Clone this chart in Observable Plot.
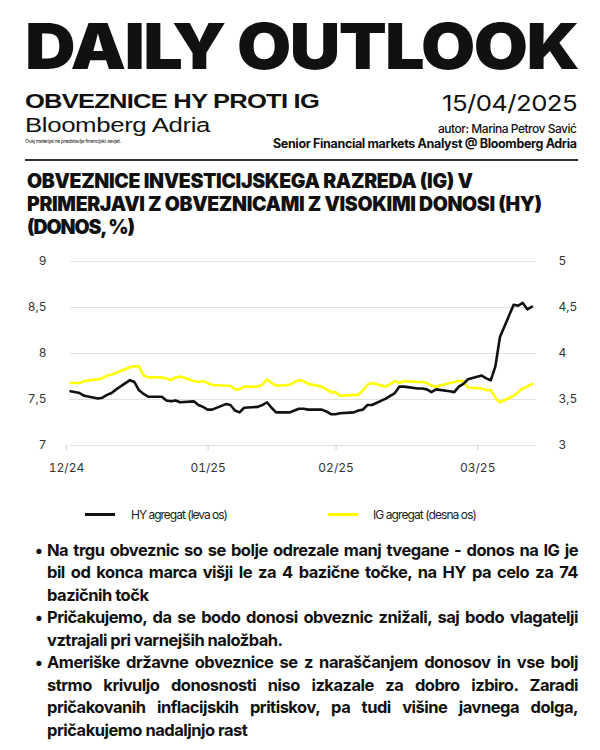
<!DOCTYPE html>
<html>
<head>
<meta charset="utf-8">
<script src="https://cdn.jsdelivr.net/npm/d3@7"></script>
<script src="https://cdn.jsdelivr.net/npm/@observablehq/plot@0.6"></script>
<style>
  html, body { margin: 0; padding: 0; background: #fff; }
  body { width: 600px; height: 750px; position: relative; overflow: hidden; font-family: Inter, "Liberation Sans", sans-serif; color: #111; }
  #header { position: absolute; left: 0; top: 0; }
  #chart { position: absolute; left: 0; top: 250px; }
  .legend { position: absolute; top: 505px; left: 0; width: 600px; height: 20px; font-size: 12px; color: #222; }
  .legend .sw { position: absolute; top: 8px; width: 30px; height: 3px; }
  .legend .lab { position: absolute; top: 2px; white-space: nowrap; letter-spacing: -0.5px; }
  #bullets { position: absolute; left: 0; top: 538.7px; width: 600px; }
  .bl { position: relative; padding-left: 47px; height: 22.5px; line-height: 22.5px; font-size: 16.5px; font-weight: 700; color: #111; }
  .bl .t { white-space: nowrap; display: inline-block; letter-spacing: -0.5px; }
  .bl .dot { position: absolute; left: 35px; top: 0; }
</style>
</head>
<body>
<svg id="header" width="600" height="250" font-family="Inter, 'Liberation Sans', sans-serif" fill="#111">
  <text x="25" y="69" font-size="63" font-weight="900" letter-spacing="-1.5" textLength="553" lengthAdjust="spacingAndGlyphs">DAILY OUTLOOK</text>
  <text x="25" y="108" font-family="'Liberation Sans', Arial, sans-serif" font-size="20" font-weight="700" letter-spacing="-0.6" textLength="294" lengthAdjust="spacingAndGlyphs">OBVEZNICE HY PROTI IG</text>
  <text x="25" y="131.5" font-family="'Liberation Sans', Arial, sans-serif" font-size="20.5" font-weight="400" letter-spacing="-0.3" textLength="185" lengthAdjust="spacingAndGlyphs">Bloomberg Adria</text>
  <text x="25" y="143" font-size="5" font-weight="400" textLength="96" lengthAdjust="spacing">Ovaj materijal ne predstavlja financijski savjet.</text>
  <text x="577" y="111" font-size="22" font-weight="400" letter-spacing="-0.5" text-anchor="end" textLength="135" lengthAdjust="spacingAndGlyphs">15/04/2025</text>
  <text x="577" y="133" font-size="12" font-weight="500" text-anchor="end" textLength="139" lengthAdjust="spacing">autor: Marina Petrov Savić</text>
  <text x="577" y="148" font-size="12.5" font-weight="700" text-anchor="end" textLength="304" lengthAdjust="spacing">Senior Financial markets Analyst @ Bloomberg Adria</text>
  <line x1="25" x2="578" y1="160" y2="160" stroke="#333" stroke-width="2"></line>
  <text x="27" y="188" font-size="19.5" font-weight="900" textLength="446" lengthAdjust="spacing">OBVEZNICE INVESTICIJSKEGA RAZREDA (IG) V</text>
  <text x="27" y="211" font-size="19.5" font-weight="900" textLength="515" lengthAdjust="spacing">PRIMERJAVI Z OBVEZNICAMI Z VISOKIMI DONOSI (HY)</text>
  <text x="27" y="234" font-size="19.5" font-weight="900" textLength="108" lengthAdjust="spacing">(DONOS, %)</text>
</svg>
<div id="chart"></div>
<div class="legend">
  <div class="sw" style="left:85px;background:#111"></div>
  <div class="lab" id="lab1" style="left:131px">HY agregat (leva os)</div>
  <div class="sw" style="left:328px;background:#ffff00"></div>
  <div class="lab" id="lab2" style="left:373px">IG agregat (desna os)</div>
</div>
<div id="bullets"></div>
<script>
// Trading days (x) and yields (%)
const dates = ["2024-12-31","2025-01-02","2025-01-03","2025-01-06","2025-01-07","2025-01-08","2025-01-09","2025-01-10",
"2025-01-13","2025-01-14","2025-01-15","2025-01-16","2025-01-17","2025-01-20","2025-01-21","2025-01-22","2025-01-23","2025-01-24",
"2025-01-27","2025-01-28","2025-01-29","2025-01-30","2025-01-31","2025-02-03","2025-02-04","2025-02-05","2025-02-06","2025-02-07",
"2025-02-10","2025-02-11","2025-02-12","2025-02-13","2025-02-14","2025-02-17","2025-02-18","2025-02-19","2025-02-20","2025-02-21",
"2025-02-24","2025-02-25","2025-02-26","2025-02-27","2025-02-28","2025-03-03","2025-03-04","2025-03-05","2025-03-06","2025-03-07",
"2025-03-10","2025-03-11","2025-03-12","2025-03-13","2025-03-14","2025-03-17","2025-03-18","2025-03-19","2025-03-20","2025-03-21",
"2025-03-24","2025-03-25","2025-03-26","2025-03-27","2025-03-28","2025-03-31","2025-04-01","2025-04-02","2025-04-03","2025-04-04",
"2025-04-07","2025-04-08","2025-04-09","2025-04-10","2025-04-11"];

// HY aggregate (left axis)
const hy = [7.59,7.57,7.54,7.51,7.52,7.55,7.57,7.61,
7.71,7.69,7.60,7.56,7.53,7.53,7.49,7.48,7.49,7.47,
7.48,7.44,7.42,7.39,7.39,7.45,7.44,7.38,7.36,7.41,
7.42,7.44,7.47,7.41,7.36,7.36,7.38,7.40,7.40,7.39,
7.39,7.37,7.34,7.34,7.35,7.36,7.38,7.39,7.44,7.44,
7.51,7.54,7.57,7.64,7.64,7.62,7.62,7.61,7.58,7.61,
7.59,7.58,7.64,7.67,7.72,7.76,7.73,7.71,7.86,8.18,
8.53,8.52,8.55,8.48,8.51];

// IG aggregate (right axis)
const ig = [3.68,3.68,3.70,3.72,3.73,3.76,3.77,3.79,
3.85,3.86,3.86,3.76,3.74,3.74,3.73,3.71,3.74,3.75,
3.70,3.69,3.70,3.68,3.66,3.65,3.65,3.61,3.61,3.64,
3.64,3.66,3.72,3.68,3.65,3.66,3.69,3.71,3.70,3.67,
3.64,3.61,3.58,3.58,3.54,3.55,3.55,3.60,3.66,3.68,
3.64,3.67,3.70,3.68,3.70,3.69,3.69,3.68,3.65,3.64,
3.68,3.69,3.70,3.70,3.63,3.62,3.60,3.60,3.52,3.47,
3.54,3.58,3.62,3.64,3.67];

const xTickDates = ["2024-12-31","2025-01-31","2025-02-28","2025-03-31"];
const xTickLabels = ["12/24","01/25","02/25","03/25"];
const leftTicks = [7, 7.5, 8, 8.5, 9];
const rightTicks = [3, 3.5, 4, 4.5, 5];
const xDomain = ["2024-12-31","2025-04-12"];

const rightOffset = leftTicks[0] - rightTicks[0]; // right axis maps onto left scale
const rows = dates.map((d, i) => ({date: new Date(d), hy: hy[i], ig: ig[i]}));
const comma = v => String(v).replace(".", ",");

const chart = Plot.plot({
  width: 600,
  height: 235,
  marginTop: 11,
  marginBottom: 40,
  marginLeft: 70,
  marginRight: 64,
  x: {type: "utc", domain: xDomain.map(d => new Date(d))},
  y: {domain: [leftTicks[0], leftTicks[leftTicks.length - 1]]},
  style: {fontFamily: "Inter, 'Liberation Sans', sans-serif", fontSize: "12px", color: "#333", background: "transparent"},
  marks: [
    Plot.gridY(leftTicks, {stroke: "#e2e2e2", strokeOpacity: 1, strokeWidth: 1}),
    Plot.axisX(xTickDates.map(d => new Date(d)), {
      tickSize: 5, tickPadding: 13, stroke: "#d0d0d0", fill: "#333", dx: -4,
      tickFormat: (d) => xTickLabels[xTickDates.indexOf(d.toISOString().slice(0, 10))],
      label: null
    }),
    Plot.lineY(rows, {x: "date", y: d => d.ig + rightOffset, stroke: "#ffff00", strokeWidth: 2.6, curve: "linear"}),
    Plot.lineY(rows, {x: "date", y: "hy", stroke: "#111", strokeWidth: 2.6, curve: "linear"}),
    Plot.axisY(leftTicks, {anchor: "left", tickSize: 0, tickPadding: 24, tickFormat: comma, label: null, fill: "#333"}),
    Plot.axisY(rightTicks.map(v => v + rightOffset), {anchor: "right", tickSize: 0, tickPadding: 22, tickFormat: v => comma(+(v - rightOffset).toFixed(1)), label: null, fill: "#333"})
  ]
});
document.getElementById("chart").appendChild(chart);

// Bullets
const bulletLines = [
  ["Na trgu obveznic so se bolje odrezale manj tvegane - donos na IG je",
   "bil od konca marca višji le za 4 bazične točke, na HY pa celo za 74",
   "bazičnih točk"],
  ["Pričakujemo, da se bodo donosi obveznic znižali, saj bodo vlagatelji",
   "vztrajali pri varnejših naložbah."],
  ["Ameriške državne obveznice se z naraščanjem donosov in vse bolj",
   "strmo krivuljo donosnosti niso izkazale za dobro izbiro. Zaradi",
   "pričakovanih inflacijskih pritiskov, pa tudi višine javnega dolga,",
   "pričakujemo nadaljnjo rast"]
];
const bl = document.getElementById("bullets");
const target = 531;
bulletLines.forEach(lines => {
  lines.forEach((line, j) => {
    const div = document.createElement("div");
    div.className = "bl";
    if (j === 0) { const dot = document.createElement("span"); dot.className = "dot"; dot.textContent = "•"; div.appendChild(dot); }
    const t = document.createElement("span");
    t.className = "t";
    t.textContent = line;
    div.appendChild(t);
    bl.appendChild(div);
    t.dataset.justify = j < lines.length - 1 ? "1" : "0";
  });
});

function fit() {
  document.querySelectorAll("#bullets .t").forEach(t => {
    let w = t.getBoundingClientRect().width;
    const n = t.textContent.length;
    if (w > target) {
      const ls = parseFloat(getComputedStyle(t).letterSpacing) || 0;
      t.style.letterSpacing = (ls + (target - w) / n - 0.02) + "px";
      w = t.getBoundingClientRect().width;
    }
    if (t.dataset.justify === "1") {
      const spaces = (t.textContent.match(/ /g) || []).length;
      if (spaces) t.style.wordSpacing = ((target - w) / spaces) + "px";
    }
  });
  [["lab1", 96], ["lab2", 103]].forEach(([id, tw]) => {
    const el = document.getElementById(id);
    const w = el.getBoundingClientRect().width;
    const ls = parseFloat(getComputedStyle(el).letterSpacing) || 0;
    el.style.letterSpacing = (ls + (tw - w) / el.textContent.length) + "px";
  });
}
if (document.fonts && document.fonts.ready) document.fonts.ready.then(fit); else fit();
</script>
</body>
</html>
